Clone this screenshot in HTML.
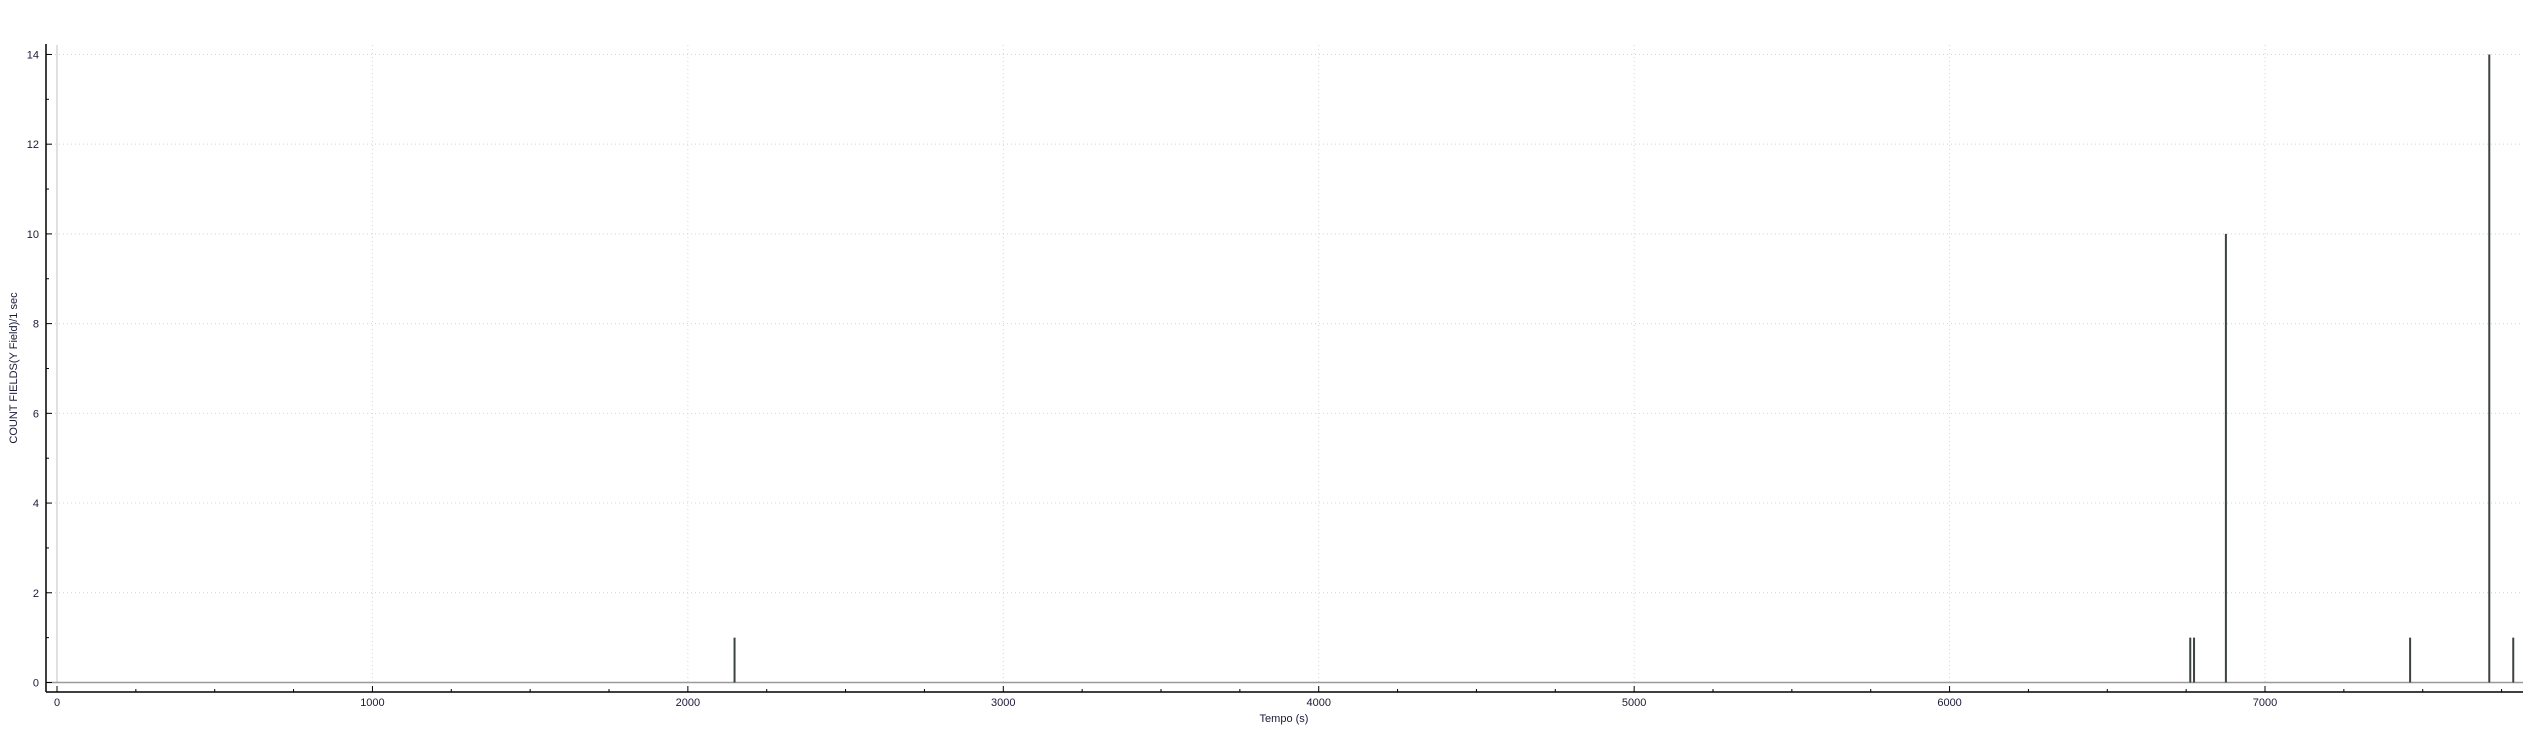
<!DOCTYPE html>
<html><head><meta charset="utf-8"><style>
html,body{margin:0;padding:0;background:#fff;}
svg{display:block;font-family:"Liberation Sans",sans-serif;}
</style></head><body>
<svg id="chart" width="2538" height="731" viewBox="0 0 2538 731" xmlns="http://www.w3.org/2000/svg"></svg>
<script>
const xTicks = [0,1000,2000,3000,4000,5000,6000,7000];
const yTicks = [0,2,4,6,8,10,12,14];
const times = [2148, 6763, 6775, 6876, 7460, 7711, 7787];
const counts = [1, 1, 1, 10, 1, 14, 1];
const X0=57, XS=0.31543, Y0=682.5, YS=44.86;
function sx(v){return X0+v*XS;}
function sy(v){return Y0-v*YS;}
const NS='http://www.w3.org/2000/svg';
const svg=document.getElementById('chart');
function el(t,a,p){const e=document.createElementNS(NS,t);for(const k in a)e.setAttribute(k,a[k]);(p||svg).appendChild(e);return e;}
const gGrid=el('g',{});


yTicks.forEach(v=>{if(v===0)return;const l=el('line',{x1:47,x2:2523,y1:sy(v),y2:sy(v),stroke:'#d4d4d4','stroke-dasharray':'1,3','stroke-width':1},gGrid);

});
xTicks.forEach(v=>{if(v===0)return;const l=el('line',{x1:sx(v),x2:sx(v),y1:45,y2:Y0,stroke:'#d4d4d4','stroke-dasharray':'1,3','stroke-width':1},gGrid);

});
const zl=el('line',{x1:sx(0),x2:sx(0),y1:45,y2:Y0,stroke:'#c0c0c0','stroke-width':1});


const bl=el('line',{x1:47,x2:2523,y1:Y0,y2:Y0,stroke:'#9a9a9a','stroke-width':1.5});


const gBars=el('g',{});


times.forEach((t,i)=>{const b=el('line',{x1:sx(t),x2:sx(t),y1:Y0,y2:sy(counts[i]),stroke:'#3c4242','stroke-width':2},gBars);

});
const ax=el('line',{x1:46,x2:2523,y1:692,y2:692,stroke:'#000','stroke-width':1.5});


const ay=el('line',{x1:46,x2:46,y1:44,y2:692,stroke:'#000','stroke-width':1.5});


for(let v=0;v<=7750;v+=250){const major=v%1000===0;const t=el('line',{x1:sx(v),x2:sx(v),y1:major?686:689,y2:692,stroke:'#000','stroke-width':1});

}
xTicks.forEach(v=>{const t=el('text',{x:sx(v),y:706,'font-size':11,fill:'#1a1a3a','text-anchor':'middle'});t.textContent=v;

});
for(let v=0;v<=14;v++){const major=v%2===0;const t=el('line',{x1:46,x2:major?52:49,y1:sy(v),y2:sy(v),stroke:'#000','stroke-width':1});

}
yTicks.forEach(v=>{const t=el('text',{x:39,y:sy(v)+4,'font-size':11,fill:'#1a1a3a','text-anchor':'end'});t.textContent=v;

});
const xt=el('text',{x:1284,y:722,'font-size':11,fill:'#1a1a3a','text-anchor':'middle'});xt.textContent='Tempo (s)';


const yt=el('text',{x:0,y:0,'font-size':11,fill:'#1a1a3a','text-anchor':'middle',transform:'translate(17,368) rotate(-90)'});yt.textContent='COUNT FIELDS(Y Field)/1 sec';


</script>
</body></html>
